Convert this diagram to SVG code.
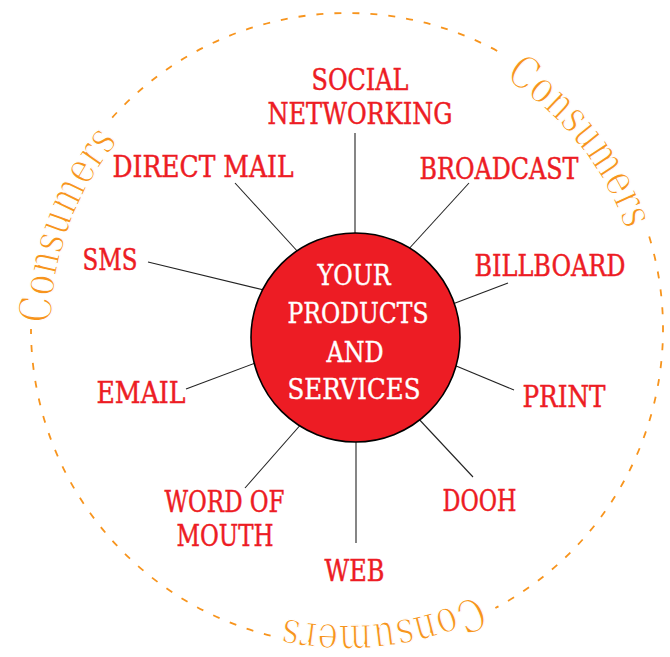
<svg xmlns="http://www.w3.org/2000/svg" width="670" height="657" viewBox="0 0 670 657">
<style>
.lbl{font-family:"DejaVu Serif","Liberation Serif",serif;font-stretch:condensed;font-size:30px;fill:#ED1C24;stroke:#ED1C24;stroke-width:0.45;text-anchor:middle}
.ctr{font-family:"DejaVu Serif","Liberation Serif",serif;font-stretch:condensed;font-size:28px;fill:#FFFFFF;stroke:#FFFFFF;stroke-width:0.35;text-anchor:middle}
.con{font-family:"DejaVu Serif","Liberation Serif",serif;font-size:45px;fill:#F7941D;stroke:#FFFFFF;stroke-width:1.3}
.ring{fill:none;stroke:#F7941D;stroke-width:1.8;stroke-dasharray:7 11}
.conn line{stroke:#222;stroke-width:1.1}
</style>
<defs>
<path id="cpath" d="M 643,329 A 296 296 0 1 1 51,329 A 296 296 0 1 1 643,329"/>
</defs>
<rect width="670" height="657" fill="#FFFFFF"/>
<g id="consumers-ring">
<path class="ring" d="M 270.6,635.6 A 316 316 0 0 1 31,329"/>
<path class="ring" d="M 112.2,117.6 A 316 316 0 0 1 505,55.3"/>
<path class="ring" d="M 649.2,236.6 A 316 316 0 0 1 495.4,608"/>
<text class="con"><textPath href="#cpath" startOffset="935" textLength="198" lengthAdjust="spacingAndGlyphs">Consumers</textPath></text>
<text class="con"><textPath href="#cpath" startOffset="1560" textLength="198" lengthAdjust="spacingAndGlyphs">Consumers</textPath></text>
<text class="con"><textPath href="#cpath" startOffset="330" textLength="198" lengthAdjust="spacingAndGlyphs">Consumers</textPath></text>
</g>
<g id="connectors" class="conn">
<line x1="355" y1="133" x2="355" y2="238"/>
<line x1="469" y1="183" x2="406" y2="252"/>
<line x1="235" y1="183" x2="299" y2="253"/>
<line x1="148" y1="262" x2="268" y2="291"/>
<line x1="508" y1="283" x2="450" y2="305"/>
<line x1="514" y1="390" x2="449" y2="363"/>
<line x1="186" y1="389" x2="258" y2="362"/>
<line x1="473" y1="477" x2="416" y2="416"/>
<line x1="356" y1="543" x2="356" y2="436"/>
<line x1="245" y1="488" x2="303" y2="422"/>
</g>
<g id="center">
<circle cx="355.5" cy="337.5" r="104.5" fill="#ED1C24" stroke="#000" stroke-width="1.6"/>
<text class="ctr" x="354" y="285" textLength="73" lengthAdjust="spacingAndGlyphs">YOUR</text>
<text class="ctr" x="358" y="323" textLength="141" lengthAdjust="spacingAndGlyphs">PRODUCTS</text>
<text class="ctr" x="355" y="362" textLength="57" lengthAdjust="spacingAndGlyphs">AND</text>
<text class="ctr" x="354" y="399" textLength="133" lengthAdjust="spacingAndGlyphs">SERVICES</text>
</g>
<g id="social-networking">
<text class="lbl" x="360" y="90" textLength="97" lengthAdjust="spacingAndGlyphs">SOCIAL</text>
<text class="lbl" x="360" y="124" textLength="185" lengthAdjust="spacingAndGlyphs">NETWORKING</text>
</g>
<g id="broadcast"><text class="lbl" x="499" y="179" textLength="159" lengthAdjust="spacingAndGlyphs">BROADCAST</text></g>
<g id="direct-mail"><text class="lbl" x="203" y="177" textLength="181" lengthAdjust="spacingAndGlyphs">DIRECT MAIL</text></g>
<g id="sms"><text class="lbl" x="110" y="270" textLength="55" lengthAdjust="spacingAndGlyphs">SMS</text></g>
<g id="billboard"><text class="lbl" x="550" y="276" textLength="151" lengthAdjust="spacingAndGlyphs">BILLBOARD</text></g>
<g id="print"><text class="lbl" x="564" y="407" textLength="83" lengthAdjust="spacingAndGlyphs">PRINT</text></g>
<g id="email"><text class="lbl" x="141" y="403" textLength="89" lengthAdjust="spacingAndGlyphs">EMAIL</text></g>
<g id="word-of-mouth">
<text class="lbl" x="224.5" y="512" textLength="120" lengthAdjust="spacingAndGlyphs">WORD OF</text>
<text class="lbl" x="225" y="546" textLength="97" lengthAdjust="spacingAndGlyphs">MOUTH</text>
</g>
<g id="dooh"><text class="lbl" x="479.5" y="511" textLength="74" lengthAdjust="spacingAndGlyphs">DOOH</text></g>
<g id="web"><text class="lbl" x="354.5" y="581" textLength="60" lengthAdjust="spacingAndGlyphs">WEB</text></g>
</svg>
